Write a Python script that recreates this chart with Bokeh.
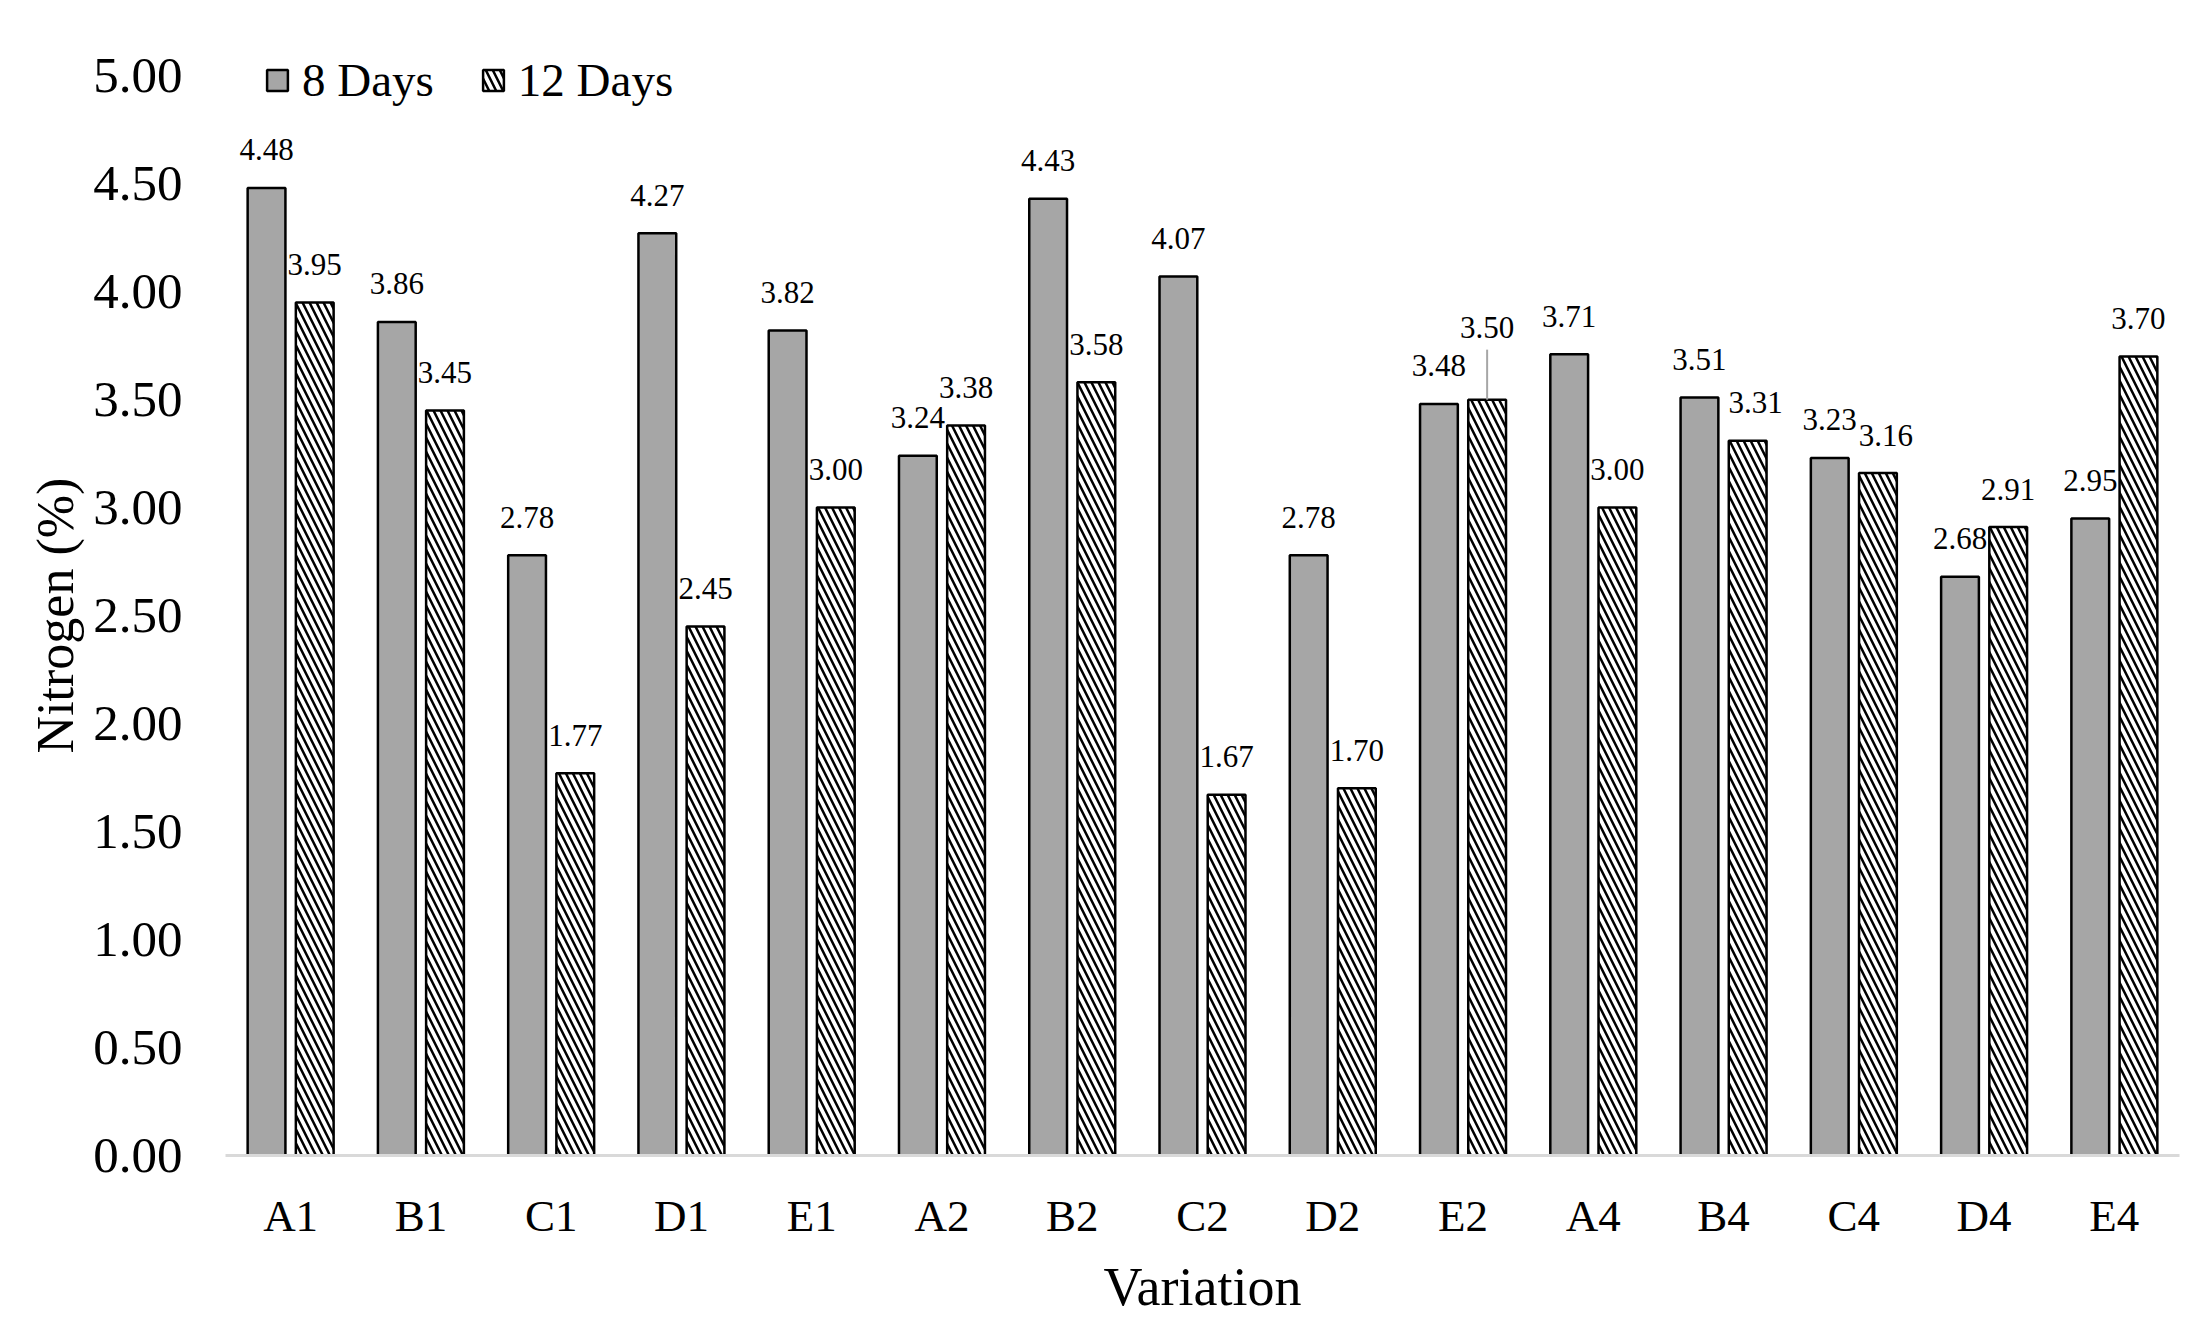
from bokeh.plotting import figure
from bokeh.models import (ColumnDataSource, FactorRange, Range1d, FixedTicker,
                          PrintfTickFormatter, Legend, LegendItem, LabelSet, Title)
from bokeh.transform import dodge
from bokeh.embed import file_html
from bokeh.resources import INLINE

# ---- data ----
categories = ["A1", "B1", "C1", "D1", "E1", "A2", "B2", "C2", "D2", "E2",
              "A4", "B4", "C4", "D4", "E4"]
days8 = [4.48, 3.86, 2.78, 4.27, 3.82, 3.24, 4.43, 4.07, 2.78, 3.48,
         3.71, 3.51, 3.23, 2.68, 2.95]
days12 = [3.95, 3.45, 1.77, 2.45, 3.00, 3.38, 3.58, 1.67, 1.70, 3.50,
          3.00, 3.31, 3.16, 2.91, 3.70]
series_names = ["8 Days", "12 Days"]
y_ticks = [0.0, 0.5, 1.0, 1.5, 2.0, 2.5, 3.0, 3.5, 4.0, 4.5, 5.0]
y_axis_title = "Nitrogen (%)"
x_axis_title = "Variation"

FONT = "Liberation Serif"
W, H = 2195, 1319
Y_MAX = 5.2
OFF = 0.185
BAR_W = 0.29
LABEL_UP = 38
PX_PER_UNIT = 216.0
YTITLE_PX = 52
# label nudges (screen px): (series index, category) -> (dx, dy)
nudges = {(1, "E2"): (0, 34), (1, "C4"): (8, 0), (1, "B4"): (8, 0)}
leader = [(1, "E2")]

p = figure(width=W, height=H, x_range=FactorRange(factors=categories),
           y_range=Range1d(0, Y_MAX), output_backend="svg", toolbar_location=None,
           min_border_left=225, min_border_right=16, min_border_top=32,
           min_border_bottom=164)
p.outline_line_color = None
p.xgrid.grid_line_color = None
p.ygrid.grid_line_color = None
p.background_fill_color = "white"
p.border_fill_color = "white"

renderers = []
for si, (vals, off) in enumerate([(days8, -OFF), (days12, OFF)]):
    dxs, dys = [], []
    for c in categories:
        dx, dy = nudges.get((si, c), (0, 0))
        dxs.append(dx)
        dys.append(LABEL_UP + dy)
    src = ColumnDataSource(dict(cat=categories, val=vals,
                                txt=["%.2f" % v for v in vals], dx=dxs, dy=dys))
    if si == 0:
        r = p.vbar(x=dodge("cat", off, range=p.x_range), top="val", width=BAR_W,
                   source=src, fill_color="#a6a6a6", line_color="black",
                   line_width=2.5)
    else:
        r = p.vbar(x=dodge("cat", off, range=p.x_range), top="val", width=BAR_W,
                   source=src, fill_color="white", line_color="black",
                   line_width=2.5, hatch_pattern="left_diagonal_line",
                   hatch_color="black", hatch_scale=14, hatch_weight=2.5)
    renderers.append(r)
    labels = LabelSet(x=dodge("cat", off, range=p.x_range), y="val", text="txt",
                      source=src, x_offset="dx", y_offset="dy",
                      text_align="center", text_baseline="middle",
                      text_font=FONT, text_font_size="31px", text_color="black")
    p.add_layout(labels)

# leader line(s) for displaced labels
for si, c in leader:
    vals = days8 if si == 0 else days12
    v = vals[categories.index(c)]
    off = -OFF if si == 0 else OFF
    lsrc = ColumnDataSource(dict(cat=[c], y0=[v], y1=[v + 50 / PX_PER_UNIT]))
    p.segment(x0=dodge("cat", off, range=p.x_range), y0="y0",
              x1=dodge("cat", off, range=p.x_range), y1="y1", source=lsrc,
              line_color="#a6a6a6", line_width=2)

# axes
p.xaxis.axis_line_color = "#d9d9d9"
p.xaxis.axis_line_width = 3
p.xaxis.major_tick_line_color = None
p.xaxis.minor_tick_line_color = None
p.xaxis.major_tick_out = 0
p.xaxis.major_label_text_font = FONT
p.xaxis.major_label_text_font_size = "45px"
p.xaxis.major_label_text_color = "black"
p.xaxis.major_label_standoff = 35
p.xaxis.axis_label = x_axis_title
p.xaxis.axis_label_text_font = FONT
p.xaxis.axis_label_text_font_size = "54px"
p.xaxis.axis_label_text_font_style = "normal"
p.xaxis.axis_label_text_color = "black"
p.xaxis.axis_label_standoff = 13

p.yaxis.axis_line_color = None
p.yaxis.major_tick_line_color = None
p.yaxis.minor_tick_line_color = None
p.yaxis.major_tick_out = 0
p.yaxis.ticker = FixedTicker(ticks=y_ticks)
p.yaxis.formatter = PrintfTickFormatter(format="%.2f")
p.yaxis.major_label_text_font = FONT
p.yaxis.major_label_text_font_size = "51px"
p.yaxis.major_label_text_color = "black"
p.yaxis.major_label_standoff = 43

# y-axis title, centred on the 0..5 span (the frame reaches a little higher
# so that the legend fits inside it)
approx_len = 5.304 * YTITLE_PX
ytitle = Title(text=y_axis_title, align="left",
               offset=2.5 * PX_PER_UNIT - approx_len / 2,
               text_font=FONT, text_font_size="%dpx" % YTITLE_PX,
               text_font_style="normal", text_color="black", standoff=13)
p.add_layout(ytitle, "left")

legend = Legend(items=[LegendItem(label=series_names[0], renderers=[renderers[0]]),
                       LegendItem(label=series_names[1], renderers=[renderers[1]])],
                location=(39, 1048), orientation="horizontal",
                border_line_color=None, background_fill_alpha=0,
                padding=0, margin=0, spacing=46, label_standoff=12,
                glyph_width=26, glyph_height=26,
                label_text_font=FONT, label_text_font_size="47px",
                label_text_color="black")
p.add_layout(legend, "center")

open("out.html", "w").write(file_html(p, INLINE))
